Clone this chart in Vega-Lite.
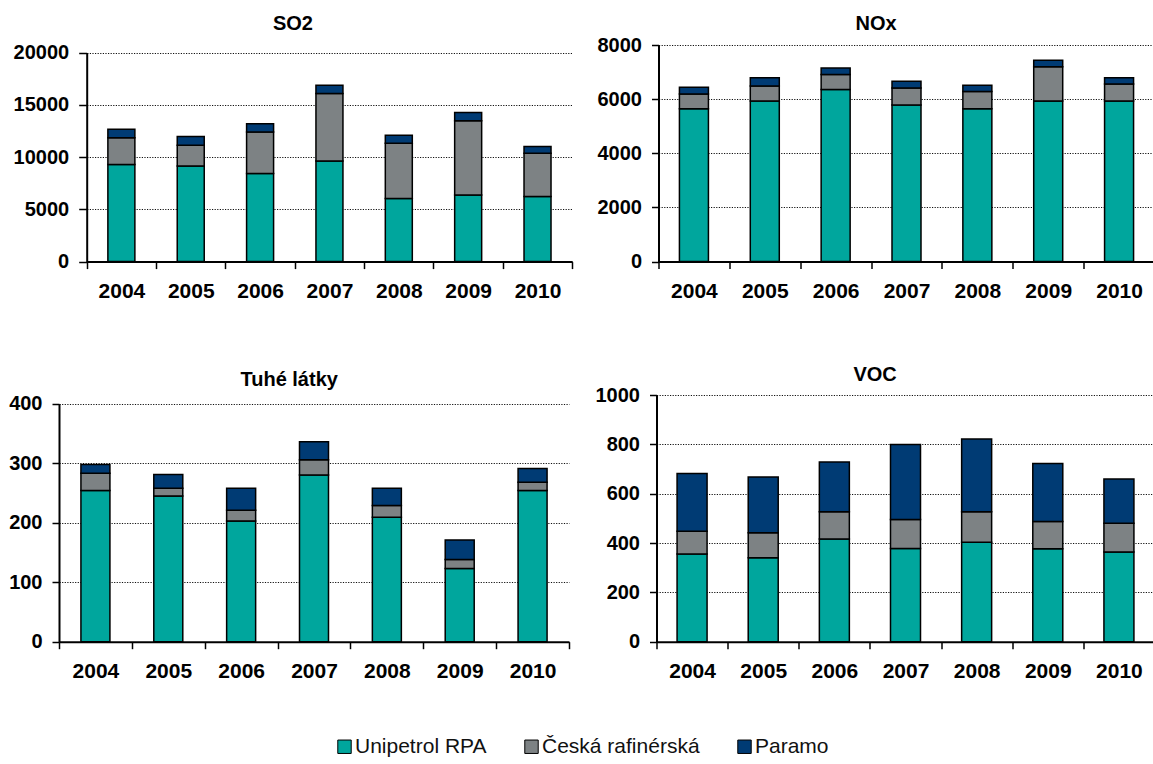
{
  "$schema": "https://vega.github.io/schema/vega-lite/v6.json",
  "padding": {"left": 8, "top": 13, "right": 0, "bottom": 5},
  "background": "white",
  "datasets": {
    "emise": [
      {"p": "SO2", "year": "2004", "c": "Unipetrol RPA", "k": 1, "v": 9300},
      {"p": "SO2", "year": "2004", "c": "Česká rafinérská", "k": 2, "v": 2560},
      {"p": "SO2", "year": "2004", "c": "Paramo", "k": 3, "v": 800},
      {"p": "SO2", "year": "2005", "c": "Unipetrol RPA", "k": 1, "v": 9150},
      {"p": "SO2", "year": "2005", "c": "Česká rafinérská", "k": 2, "v": 1980},
      {"p": "SO2", "year": "2005", "c": "Paramo", "k": 3, "v": 830},
      {"p": "SO2", "year": "2006", "c": "Unipetrol RPA", "k": 1, "v": 8420},
      {"p": "SO2", "year": "2006", "c": "Česká rafinérská", "k": 2, "v": 3980},
      {"p": "SO2", "year": "2006", "c": "Paramo", "k": 3, "v": 800},
      {"p": "SO2", "year": "2007", "c": "Unipetrol RPA", "k": 1, "v": 9630},
      {"p": "SO2", "year": "2007", "c": "Česká rafinérská", "k": 2, "v": 6450},
      {"p": "SO2", "year": "2007", "c": "Paramo", "k": 3, "v": 790},
      {"p": "SO2", "year": "2008", "c": "Unipetrol RPA", "k": 1, "v": 6030},
      {"p": "SO2", "year": "2008", "c": "Česká rafinérská", "k": 2, "v": 5290},
      {"p": "SO2", "year": "2008", "c": "Paramo", "k": 3, "v": 770},
      {"p": "SO2", "year": "2009", "c": "Unipetrol RPA", "k": 1, "v": 6380},
      {"p": "SO2", "year": "2009", "c": "Česká rafinérská", "k": 2, "v": 7110},
      {"p": "SO2", "year": "2009", "c": "Paramo", "k": 3, "v": 770},
      {"p": "SO2", "year": "2010", "c": "Unipetrol RPA", "k": 1, "v": 6220},
      {"p": "SO2", "year": "2010", "c": "Česká rafinérská", "k": 2, "v": 4150},
      {"p": "SO2", "year": "2010", "c": "Paramo", "k": 3, "v": 640},

      {"p": "NOx", "year": "2004", "c": "Unipetrol RPA", "k": 1, "v": 5650},
      {"p": "NOx", "year": "2004", "c": "Česká rafinérská", "k": 2, "v": 540},
      {"p": "NOx", "year": "2004", "c": "Paramo", "k": 3, "v": 250},
      {"p": "NOx", "year": "2005", "c": "Unipetrol RPA", "k": 1, "v": 5930},
      {"p": "NOx", "year": "2005", "c": "Česká rafinérská", "k": 2, "v": 555},
      {"p": "NOx", "year": "2005", "c": "Paramo", "k": 3, "v": 310},
      {"p": "NOx", "year": "2006", "c": "Unipetrol RPA", "k": 1, "v": 6360},
      {"p": "NOx", "year": "2006", "c": "Česká rafinérská", "k": 2, "v": 555},
      {"p": "NOx", "year": "2006", "c": "Paramo", "k": 3, "v": 235},
      {"p": "NOx", "year": "2007", "c": "Unipetrol RPA", "k": 1, "v": 5780},
      {"p": "NOx", "year": "2007", "c": "Česká rafinérská", "k": 2, "v": 630},
      {"p": "NOx", "year": "2007", "c": "Paramo", "k": 3, "v": 250},
      {"p": "NOx", "year": "2008", "c": "Unipetrol RPA", "k": 1, "v": 5650},
      {"p": "NOx", "year": "2008", "c": "Česká rafinérská", "k": 2, "v": 630},
      {"p": "NOx", "year": "2008", "c": "Paramo", "k": 3, "v": 230},
      {"p": "NOx", "year": "2009", "c": "Unipetrol RPA", "k": 1, "v": 5930},
      {"p": "NOx", "year": "2009", "c": "Česká rafinérská", "k": 2, "v": 1270},
      {"p": "NOx", "year": "2009", "c": "Paramo", "k": 3, "v": 235},
      {"p": "NOx", "year": "2010", "c": "Unipetrol RPA", "k": 1, "v": 5930},
      {"p": "NOx", "year": "2010", "c": "Česká rafinérská", "k": 2, "v": 630},
      {"p": "NOx", "year": "2010", "c": "Paramo", "k": 3, "v": 235},

      {"p": "Tuhé látky", "year": "2004", "c": "Unipetrol RPA", "k": 1, "v": 254},
      {"p": "Tuhé látky", "year": "2004", "c": "Česká rafinérská", "k": 2, "v": 29},
      {"p": "Tuhé látky", "year": "2004", "c": "Paramo", "k": 3, "v": 15},
      {"p": "Tuhé látky", "year": "2005", "c": "Unipetrol RPA", "k": 1, "v": 245},
      {"p": "Tuhé látky", "year": "2005", "c": "Česká rafinérská", "k": 2, "v": 13},
      {"p": "Tuhé látky", "year": "2005", "c": "Paramo", "k": 3, "v": 23},
      {"p": "Tuhé látky", "year": "2006", "c": "Unipetrol RPA", "k": 1, "v": 203},
      {"p": "Tuhé látky", "year": "2006", "c": "Česká rafinérská", "k": 2, "v": 18},
      {"p": "Tuhé látky", "year": "2006", "c": "Paramo", "k": 3, "v": 37},
      {"p": "Tuhé látky", "year": "2007", "c": "Unipetrol RPA", "k": 1, "v": 280},
      {"p": "Tuhé látky", "year": "2007", "c": "Česká rafinérská", "k": 2, "v": 26},
      {"p": "Tuhé látky", "year": "2007", "c": "Paramo", "k": 3, "v": 30},
      {"p": "Tuhé látky", "year": "2008", "c": "Unipetrol RPA", "k": 1, "v": 209},
      {"p": "Tuhé látky", "year": "2008", "c": "Česká rafinérská", "k": 2, "v": 20},
      {"p": "Tuhé látky", "year": "2008", "c": "Paramo", "k": 3, "v": 29},
      {"p": "Tuhé látky", "year": "2009", "c": "Unipetrol RPA", "k": 1, "v": 123},
      {"p": "Tuhé látky", "year": "2009", "c": "Česká rafinérská", "k": 2, "v": 15},
      {"p": "Tuhé látky", "year": "2009", "c": "Paramo", "k": 3, "v": 33},
      {"p": "Tuhé látky", "year": "2010", "c": "Unipetrol RPA", "k": 1, "v": 254},
      {"p": "Tuhé látky", "year": "2010", "c": "Česká rafinérská", "k": 2, "v": 14},
      {"p": "Tuhé látky", "year": "2010", "c": "Paramo", "k": 3, "v": 23},

      {"p": "VOC", "year": "2004", "c": "Unipetrol RPA", "k": 1, "v": 355},
      {"p": "VOC", "year": "2004", "c": "Česká rafinérská", "k": 2, "v": 93},
      {"p": "VOC", "year": "2004", "c": "Paramo", "k": 3, "v": 234},
      {"p": "VOC", "year": "2005", "c": "Unipetrol RPA", "k": 1, "v": 340},
      {"p": "VOC", "year": "2005", "c": "Česká rafinérská", "k": 2, "v": 102},
      {"p": "VOC", "year": "2005", "c": "Paramo", "k": 3, "v": 226},
      {"p": "VOC", "year": "2006", "c": "Unipetrol RPA", "k": 1, "v": 416},
      {"p": "VOC", "year": "2006", "c": "Česká rafinérská", "k": 2, "v": 111},
      {"p": "VOC", "year": "2006", "c": "Paramo", "k": 3, "v": 201},
      {"p": "VOC", "year": "2007", "c": "Unipetrol RPA", "k": 1, "v": 378},
      {"p": "VOC", "year": "2007", "c": "Česká rafinérská", "k": 2, "v": 117},
      {"p": "VOC", "year": "2007", "c": "Paramo", "k": 3, "v": 304},
      {"p": "VOC", "year": "2008", "c": "Unipetrol RPA", "k": 1, "v": 403},
      {"p": "VOC", "year": "2008", "c": "Česká rafinérská", "k": 2, "v": 124},
      {"p": "VOC", "year": "2008", "c": "Paramo", "k": 3, "v": 295},
      {"p": "VOC", "year": "2009", "c": "Unipetrol RPA", "k": 1, "v": 377},
      {"p": "VOC", "year": "2009", "c": "Česká rafinérská", "k": 2, "v": 110},
      {"p": "VOC", "year": "2009", "c": "Paramo", "k": 3, "v": 235},
      {"p": "VOC", "year": "2010", "c": "Unipetrol RPA", "k": 1, "v": 364},
      {"p": "VOC", "year": "2010", "c": "Česká rafinérská", "k": 2, "v": 116},
      {"p": "VOC", "year": "2010", "c": "Paramo", "k": 3, "v": 180}
    ]
  },
  "data": {"name": "emise"},
  "vconcat": [
    {
      "spacing": 23.5,
      "hconcat": [
        {
          "title": {"text": "SO2", "offset": 9},
          "width": 513.2,
          "height": 216.6,
          "transform": [{"filter": "datum.p === 'SO2'"}],
          "mark": {"type": "bar", "size": 27, "stroke": "black", "strokeWidth": 1.5},
          "encoding": {
            "x": {"field": "year", "type": "ordinal", "scale": {"type": "band", "paddingInner": 0, "paddingOuter": 0, "range": [27.7, 513.2]}, "axis": {"title": null}},
            "y": {"field": "v", "type": "quantitative", "stack": "zero", "scale": {"domain": [0, 20000], "nice": false, "range": [216.6, 7.6]}, "axis": {"title": null, "format": "d", "values": [0, 5000, 10000, 15000, 20000], "tickSize": 8, "labelPadding": 10, "offset": -27.7}},
            "order": {"field": "k", "type": "quantitative"},
            "color": {"field": "c", "type": "nominal", "sort": ["Unipetrol RPA", "Česká rafinérská", "Paramo"], "scale": {"domain": ["Unipetrol RPA", "Česká rafinérská", "Paramo"], "range": ["#00A69D", "#7D8284", "#003B74"]}}
          }
        },
        {
          "title": {"text": "NOx", "offset": 1.4},
          "width": 496,
          "height": 216.6,
          "transform": [{"filter": "datum.p === 'NOx'"}],
          "mark": {"type": "bar", "size": 29, "stroke": "black", "strokeWidth": 1.5},
          "encoding": {
            "x": {"field": "year", "type": "ordinal", "scale": {"type": "band", "paddingInner": 0, "paddingOuter": 0}, "axis": {"title": null}},
            "y": {"field": "v", "type": "quantitative", "stack": "zero", "scale": {"domain": [0, 8000], "nice": false}, "axis": {"title": null, "format": "d", "values": [0, 2000, 4000, 6000, 8000], "tickSize": 7, "labelPadding": 10}},
            "order": {"field": "k", "type": "quantitative"},
            "color": {"field": "c", "type": "nominal", "sort": ["Unipetrol RPA", "Česká rafinérská", "Paramo"], "scale": {"domain": ["Unipetrol RPA", "Česká rafinérská", "Paramo"], "range": ["#00A69D", "#7D8284", "#003B74"]}}
          }
        }
      ]
    },
    {
      "spacing": 24.5,
      "hconcat": [
        {
          "title": {"text": "Tuhé látky", "offset": 3.6},
          "width": 510,
          "height": 246.7,
          "transform": [{"filter": "datum.p === 'Tuhé látky'"}],
          "mark": {"type": "bar", "size": 29, "stroke": "black", "strokeWidth": 1.5},
          "encoding": {
            "x": {"field": "year", "type": "ordinal", "scale": {"type": "band", "paddingInner": 0, "paddingOuter": 0}, "axis": {"title": null}},
            "y": {"field": "v", "type": "quantitative", "stack": "zero", "scale": {"domain": [0, 400], "nice": false, "range": [246.7, 8.7]}, "axis": {"title": null, "format": "d", "values": [0, 100, 200, 300, 400], "tickSize": 7, "labelPadding": 10}},
            "order": {"field": "k", "type": "quantitative"},
            "color": {"field": "c", "type": "nominal", "sort": ["Unipetrol RPA", "Česká rafinérská", "Paramo"], "scale": {"domain": ["Unipetrol RPA", "Česká rafinérská", "Paramo"], "range": ["#00A69D", "#7D8284", "#003B74"]}}
          }
        },
        {
          "title": {"text": "VOC", "offset": 0.3},
          "width": 498,
          "height": 246.7,
          "transform": [{"filter": "datum.p === 'VOC'"}],
          "mark": {"type": "bar", "size": 30, "stroke": "black", "strokeWidth": 1.5},
          "encoding": {
            "x": {"field": "year", "type": "ordinal", "scale": {"type": "band", "paddingInner": 0, "paddingOuter": 0}, "axis": {"title": null}},
            "y": {"field": "v", "type": "quantitative", "stack": "zero", "scale": {"domain": [0, 1000], "nice": false}, "axis": {"title": null, "format": "d", "values": [0, 200, 400, 600, 800, 1000], "tickSize": 7, "labelPadding": 10}},
            "order": {"field": "k", "type": "quantitative"},
            "color": {"field": "c", "type": "nominal", "sort": ["Unipetrol RPA", "Česká rafinérská", "Paramo"], "scale": {"domain": ["Unipetrol RPA", "Česká rafinérská", "Paramo"], "range": ["#00A69D", "#7D8284", "#003B74"]}}
          }
        }
      ]
    }
  ],
  "spacing": 62,
  "config": {
    "view": {"stroke": null},
    "title": {"font": "Liberation Sans", "fontSize": 20, "fontWeight": "bold", "color": "black", "frame": "bounds", "anchor": "middle"},
    "axis": {
      "labelFont": "Liberation Sans",
      "labelFontWeight": "bold",
      "labelFontSize": 20,
      "labelColor": "black",
      "domainColor": "black",
      "domainWidth": 2,
      "tickColor": "black",
      "tickWidth": 1.5,
      "gridColor": "#111111",
      "gridDash": [1.2, 1.4],
      "gridWidth": 1
    },
    "axisX": {"grid": false, "tickBand": "extent", "tickSize": 7, "labelAngle": 0, "labelFontSize": 21, "labelPadding": 12},
    "axisY": {"grid": true},
    "legend": {
      "orient": "bottom",
      "direction": "horizontal",
      "layout": {"bottom": {"anchor": "middle"}},
      "title": null,
      "symbolType": "square",
      "symbolSize": 180,
      "symbolStrokeColor": "black",
      "symbolStrokeWidth": 1,
      "labelFont": "Liberation Sans",
      "labelFontSize": 21,
      "labelColor": "#111111",
      "labelOffset": 0,
      "columnPadding": 34,
      "offset": 54
    }
  }
}
